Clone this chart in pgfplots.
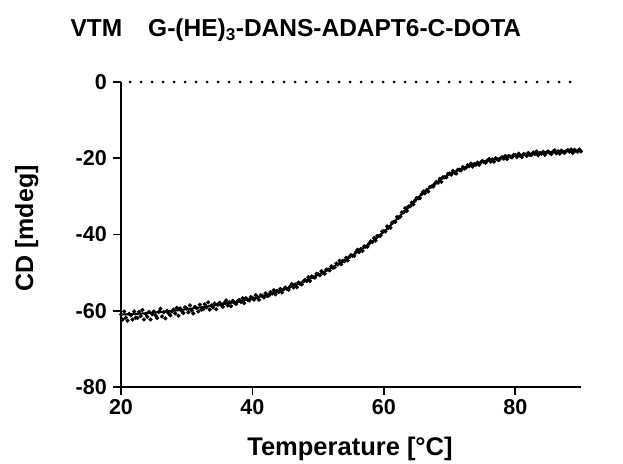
\documentclass[border=0pt]{standalone}
\usepackage{pgfplots}
\pgfplotsset{compat=1.18}
\usepackage{pgfplotstable}
\usepackage{fontspec}
\setmainfont{Liberation Sans}

\pgfplotstableread[row sep=\\]{
T CD\\
20 -61.0\\ 20.25 -62.3\\ 20.5 -60.2\\ 20.75 -61.8\\ 21 -62.6\\ 21.25 -60.8\\ 21.5 -61.2\\ 21.75 -62.3\\ 22 -60.2\\ 22.25 -61.8\\
22.5 -61.9\\ 22.75 -60.3\\ 23 -61.4\\ 23.25 -59.8\\ 23.5 -62.3\\ 23.75 -60.8\\ 24 -61.6\\ 24.25 -60.3\\ 24.5 -62.3\\ 24.75 -60.9\\
25 -60.2\\ 25.25 -61.2\\ 25.5 -61.9\\ 25.75 -60.3\\ 26 -59.5\\ 26.25 -61.5\\ 26.5 -60.4\\ 26.75 -62.0\\ 27 -60.0\\ 27.25 -60.7\\
27.5 -61.2\\ 27.75 -60.2\\ 28 -59.7\\ 28.25 -60.7\\ 28.5 -59.2\\ 28.75 -61.3\\ 29 -59.4\\ 29.25 -60.1\\ 29.5 -60.6\\ 29.75 -59.1\\
30 -59.4\\ 30.25 -60.4\\ 30.5 -58.6\\ 30.75 -59.9\\ 31 -60.7\\ 31.25 -59.0\\ 31.5 -59.3\\ 31.75 -60.2\\ 32 -58.4\\ 32.25 -59.7\\
32.5 -59.6\\ 32.75 -58.3\\ 33 -59.1\\ 33.25 -57.8\\ 33.5 -59.7\\ 33.75 -58.6\\ 34 -59.1\\ 34.25 -58.1\\ 34.5 -59.6\\ 34.75 -58.4\\
35 -57.9\\ 35.25 -58.5\\ 35.5 -59.0\\ 35.75 -57.9\\ 36 -57.3\\ 36.25 -58.6\\ 36.5 -57.8\\ 36.75 -58.8\\ 37 -57.4\\ 37.25 -57.9\\
37.5 -58.2\\ 37.75 -57.5\\ 38 -57.2\\ 38.25 -57.7\\ 38.5 -56.7\\ 38.75 -58.0\\ 39 -56.7\\ 39.25 -57.1\\ 39.5 -57.3\\ 39.75 -56.4\\
40 -56.6\\ 40.25 -57.1\\ 40.5 -55.9\\ 40.75 -56.6\\ 41 -57.1\\ 41.25 -55.9\\ 41.5 -56.1\\ 41.75 -56.5\\ 42 -55.4\\ 42.25 -56.1\\
42.5 -56.0\\ 42.75 -55.1\\ 43 -55.5\\ 43.25 -54.6\\ 43.5 -55.7\\ 43.75 -54.8\\ 44 -55.1\\ 44.25 -54.3\\ 44.5 -55.2\\ 44.75 -54.4\\
45 -53.9\\ 45.25 -54.3\\ 45.5 -54.5\\ 45.75 -53.6\\ 46 -53.0\\ 46.25 -53.9\\ 46.5 -53.1\\ 46.75 -53.8\\ 47 -52.6\\ 47.25 -52.9\\
47.5 -53.1\\ 47.75 -52.3\\ 48 -51.9\\ 48.25 -52.2\\ 48.5 -51.2\\ 48.75 -52.2\\ 49 -51.0\\ 49.25 -51.2\\ 49.5 -51.3\\ 49.75 -50.3\\
50 -50.4\\ 50.25 -50.7\\ 50.5 -49.6\\ 50.75 -50.1\\ 51 -50.3\\ 51.25 -49.2\\ 51.5 -49.2\\ 51.75 -49.4\\ 52 -48.3\\ 52.25 -48.7\\
52.5 -48.6\\ 52.75 -47.6\\ 53 -47.9\\ 53.25 -46.9\\ 53.5 -47.8\\ 53.75 -46.9\\ 54 -47.0\\ 54.25 -46.1\\ 54.5 -46.8\\ 54.75 -45.9\\
55 -45.4\\ 55.25 -45.6\\ 55.5 -45.6\\ 55.75 -44.6\\ 56 -44.0\\ 56.25 -44.6\\ 56.5 -43.8\\ 56.75 -44.3\\ 57 -43.1\\ 57.25 -43.2\\
57.5 -43.2\\ 57.75 -42.4\\ 58 -41.8\\ 58.25 -42.0\\ 58.5 -40.9\\ 58.75 -41.6\\ 59 -40.4\\ 59.25 -40.4\\ 59.5 -40.3\\ 59.75 -39.2\\
60 -39.1\\ 60.25 -39.2\\ 60.5 -37.9\\ 60.75 -38.2\\ 61 -38.2\\ 61.25 -36.9\\ 61.5 -36.7\\ 61.75 -36.7\\ 62 -35.4\\ 62.25 -35.6\\
62.5 -35.3\\ 62.75 -34.2\\ 63 -34.2\\ 63.25 -33.1\\ 63.5 -33.8\\ 63.75 -32.7\\ 64 -32.6\\ 64.25 -31.6\\ 64.5 -32.1\\ 64.75 -31.1\\
65 -30.4\\ 65.25 -30.5\\ 65.5 -30.5\\ 65.75 -29.4\\ 66 -28.7\\ 66.25 -29.2\\ 66.5 -28.3\\ 66.75 -28.7\\ 67 -27.5\\ 67.25 -27.4\\
67.5 -27.4\\ 67.75 -26.7\\ 68 -26.2\\ 68.25 -26.4\\ 68.5 -25.4\\ 68.75 -26.2\\ 69 -25.0\\ 69.25 -25.0\\ 69.5 -25.0\\ 69.75 -24.1\\
70 -24.0\\ 70.25 -24.3\\ 70.5 -23.3\\ 70.75 -23.8\\ 71 -24.0\\ 71.25 -23.0\\ 71.5 -23.0\\ 71.75 -23.2\\ 72 -22.3\\ 72.25 -22.7\\
72.5 -22.5\\ 72.75 -21.8\\ 73 -22.1\\ 73.25 -21.4\\ 73.5 -22.2\\ 73.75 -21.5\\ 74 -21.7\\ 74.25 -21.1\\ 74.5 -21.7\\ 74.75 -21.1\\
75 -20.7\\ 75.25 -21.0\\ 75.5 -21.2\\ 75.75 -20.6\\ 76 -20.2\\ 76.25 -20.9\\ 76.5 -20.3\\ 76.75 -20.9\\ 77 -20.0\\ 77.25 -20.3\\
77.5 -20.5\\ 77.75 -20.0\\ 78 -19.7\\ 78.25 -20.1\\ 78.5 -19.4\\ 78.75 -20.2\\ 79 -19.4\\ 79.25 -19.6\\ 79.5 -19.8\\ 79.75 -19.1\\
80 -19.2\\ 80.25 -19.7\\ 80.5 -18.8\\ 80.75 -19.4\\ 81 -19.7\\ 81.25 -18.9\\ 81.5 -19.0\\ 81.75 -19.4\\ 82 -18.6\\ 82.25 -19.1\\
82.5 -19.1\\ 82.75 -18.5\\ 83 -18.9\\ 83.25 -18.2\\ 83.5 -19.2\\ 83.75 -18.6\\ 84 -18.8\\ 84.25 -18.3\\ 84.5 -19.1\\ 84.75 -18.5\\
85 -18.2\\ 85.25 -18.6\\ 85.5 -18.9\\ 85.75 -18.2\\ 86 -17.9\\ 86.25 -18.7\\ 86.5 -18.2\\ 86.75 -18.8\\ 87 -18.0\\ 87.25 -18.3\\
87.5 -18.6\\ 87.75 -18.1\\ 88 -17.9\\ 88.25 -18.3\\ 88.5 -17.7\\ 88.75 -18.6\\ 89 -17.8\\ 89.25 -18.1\\ 89.5 -18.3\\ 89.75 -17.7\\
90 -18.2\\
}\measured

\pgfplotstableread[row sep=\\]{
T CD\\
20 -61.0\\ 22.5 -60.8\\ 25 -60.5\\ 27.5 -60.1\\ 30 -59.6\\ 32.5 -59.0\\ 35 -58.4\\ 37.5 -57.7\\
40 -56.8\\ 42.5 -55.7\\ 45 -54.3\\ 47.5 -52.6\\ 50 -50.6\\ 52.5 -48.3\\ 55 -45.7\\ 57.5 -42.8\\
60 -39.3\\ 62.5 -35.0\\ 65 -30.7\\ 67.5 -27.0\\ 70 -24.2\\ 72.5 -22.3\\ 75 -21.0\\ 77.5 -20.1\\
80 -19.4\\ 82.5 -18.9\\ 85 -18.5\\ 87.5 -18.2\\ 90 -18.0\\
}\fit

\begin{document}
\begin{tikzpicture}
\useasboundingbox (0,0) rectangle (623pt,463pt);
\begin{axis}[
  at={(121pt,76pt)}, anchor=south west,
  scale only axis, width=460pt, height=305pt,
  xmin=20, xmax=90, ymin=-80, ymax=0,
  clip=false,
  axis lines=left,
  axis line style={-, line width=1.8pt},
  every tick/.style={black, line width=1.8pt},
  tick align=outside,
  major tick length=8pt,
  xtick={20,40,60,80}, xticklabels={20,40,60,80},
  ytick={-80,-60,-40,-20,0}, yticklabels={-80,-60,-40,-20,0},
  minor tick num=0,
  ticklabel style={font=\bfseries\fontsize{21.5pt}{24pt}\selectfont},
  xticklabel style={inner sep=4pt},
  yticklabel style={inner sep=6pt},
]
\addplot[black, line width=3pt, dash pattern=on 0pt off 11pt, line cap=round] coordinates {(21.4,0) (90,0)};
\addplot[only marks, mark=*, mark size=1.9pt, black] table[x=T, y=CD] {\measured};
\addplot[black, line width=2pt, smooth] table[x=T, y=CD] {\fit};
\end{axis}
\node[anchor=base west, font=\bfseries\fontsize{24.5pt}{28pt}\selectfont] at (67pt,426pt) {VTM\hspace{26pt}G-(HE)\textsubscript{3}-DANS-ADAPT6-C-DOTA};
\node[anchor=base, font=\bfseries\fontsize{25.5pt}{30pt}\selectfont] at (350pt,8pt) {Temperature [°C]};
\node[anchor=base, rotate=90, font=\bfseries\fontsize{25pt}{30pt}\selectfont] at (33pt,234.5pt) {CD [mdeg]};
\end{tikzpicture}
\end{document}
